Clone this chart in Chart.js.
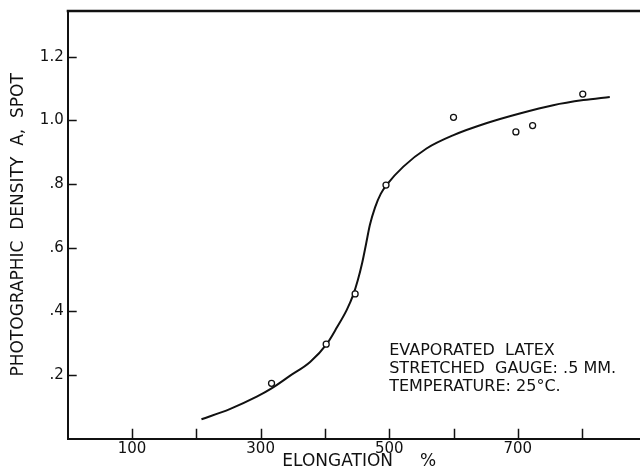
<!DOCTYPE html>
<html>
<head>
<meta charset="utf-8">
<script src="https://cdn.jsdelivr.net/npm/chart.js@4/dist/chart.umd.min.js"></script>
<style>
html,body{margin:0;padding:0;background:#fff;}
#wrap{width:640px;height:473px;position:relative;}
</style>
</head>
<body>
<div id="wrap"><canvas id="c"></canvas></div>
<script>
// Measured points (elongation %, photographic density)
const pointX = [317, 402, 447, 495, 600, 697, 723, 801];
const pointY = [0.174, 0.297, 0.455, 0.797, 1.010, 0.964, 0.984, 1.083];

// Smooth fitted curve
const curveX = [208, 252, 294, 317, 346, 377, 403, 419, 434, 444, 451, 458, 464, 470, 478, 487, 497, 522, 558, 600, 652, 703, 755, 802, 843];
const curveY = [0.061, 0.093, 0.132, 0.158, 0.198, 0.241, 0.298, 0.351, 0.405, 0.452, 0.497, 0.553, 0.612, 0.672, 0.727, 0.770, 0.800, 0.855, 0.912, 0.954, 0.992, 1.022, 1.048, 1.064, 1.074];

// Axis ticks
const xTickValues = [100, 200, 300, 400, 500, 600, 700, 800];
const xTickLabels = ['100', '', '300', '', '500', '', '700', ''];
const yTickValues = [0.2, 0.4, 0.6, 0.8, 1.0, 1.2];
const yTickLabels = ['.2', '.4', '.6', '.8', '1.0', '1.2'];

const xTitle = '  ELONGATION     %';
const yTitle = 'PHOTOGRAPHIC  DENSITY  A,  SPOT';
const noteLines = ['EVAPORATED  LATEX', 'STRETCHED  GAUGE: .5 MM.', 'TEMPERATURE: 25°C.'];
const noteAnchor = {x: 500, y: 0.264};

const FONT = 'DejaVu Sans';
const INK = '#111';

const frame = {
  id: 'frame',
  afterDraw(chart) {
    const {ctx, chartArea: a, scales: {x, y}} = chart;
    ctx.save();
    ctx.strokeStyle = INK;
    // top border
    ctx.lineWidth = 2.5;
    ctx.beginPath();
    ctx.moveTo(a.left - 1, a.top);
    ctx.lineTo(a.right, a.top);
    ctx.stroke();
    // inward tick marks
    ctx.lineWidth = 1.5;
    ctx.beginPath();
    xTickValues.forEach(v => {
      const px = Math.round(x.getPixelForValue(v)) + 0.5;
      ctx.moveTo(px, a.bottom);
      ctx.lineTo(px, a.bottom - 10);
    });
    yTickValues.forEach(v => {
      const py = Math.round(y.getPixelForValue(v)) + 0.5;
      ctx.moveTo(a.left, py);
      ctx.lineTo(a.left + 9, py);
    });
    ctx.stroke();
    // annotation
    ctx.fillStyle = INK;
    ctx.font = '16px "' + FONT + '"';
    ctx.textBaseline = 'alphabetic';
    ctx.textAlign = 'left';
    const nx = x.getPixelForValue(noteAnchor.x);
    const ny = y.getPixelForValue(noteAnchor.y);
    noteLines.forEach((t, i) => ctx.fillText(t, nx, ny + i * 18.4));
    ctx.restore();
  }
};

new Chart(document.getElementById('c'), {
  type: 'scatter',
  data: {
    datasets: [
      {
        data: pointX.map((v, i) => ({x: v, y: pointY[i]})),
        showLine: false,
        pointStyle: 'circle',
        pointRadius: 3,
        pointBorderWidth: 1.3,
        pointBorderColor: INK,
        pointBackgroundColor: '#fff',
        order: 0
      },
      {
        data: curveX.map((v, i) => ({x: v, y: curveY[i]})),
        showLine: true,
        borderColor: INK,
        borderWidth: 2,
        pointRadius: 0,
        cubicInterpolationMode: 'monotone',
        order: 1
      }
    ]
  },
  options: {
    responsive: true,
    maintainAspectRatio: false,
    animation: false,
    layout: {autoPadding: false, padding: {left: 0, right: 0, top: 11, bottom: 0}},
    plugins: {legend: {display: false}, tooltip: {enabled: false}},
    scales: {
      x: {
        type: 'linear',
        min: 0,
        max: 890,
        afterBuildTicks: s => { s.ticks = xTickValues.map(v => ({value: v})); },
        afterFit: s => { s.height = 34.3; s.paddingLeft = 0; s.paddingRight = 0; },
        grid: {display: true, drawOnChartArea: false, drawTicks: false, color: 'rgba(0,0,0,0)'},
        border: {display: true, color: INK, width: 2},
        ticks: {
          padding: 1,
          maxRotation: 0,
          autoSkip: false,
          color: INK,
          font: {family: FONT, size: 15},
          callback: (v) => { const i = xTickValues.indexOf(v); return i >= 0 ? xTickLabels[i] : ''; }
        },
        title: {display: true, text: xTitle, color: INK, font: {family: FONT, size: 17}, padding: {top: 0, bottom: 1}}
      },
      y: {
        type: 'linear',
        min: 0,
        max: 1.344,
        afterBuildTicks: s => { s.ticks = yTickValues.map(v => ({value: v})); },
        afterFit: s => { s.width = 67.7; s.paddingTop = 0; s.paddingBottom = 0; },
        grid: {display: true, drawOnChartArea: false, drawTicks: false, color: 'rgba(0,0,0,0)'},
        border: {display: true, color: INK, width: 2},
        ticks: {
          padding: 4,
          autoSkip: false,
          color: INK,
          font: {family: FONT, size: 15},
          callback: (v) => { const i = yTickValues.findIndex(t => Math.abs(t - v) < 1e-6); return i >= 0 ? yTickLabels[i] : ''; }
        },
        title: {display: true, text: yTitle, color: INK, font: {family: FONT, size: 17}, padding: {top: 8, bottom: 0}}
      }
    }
  },
  plugins: [frame]
});
</script>
</body>
</html>
